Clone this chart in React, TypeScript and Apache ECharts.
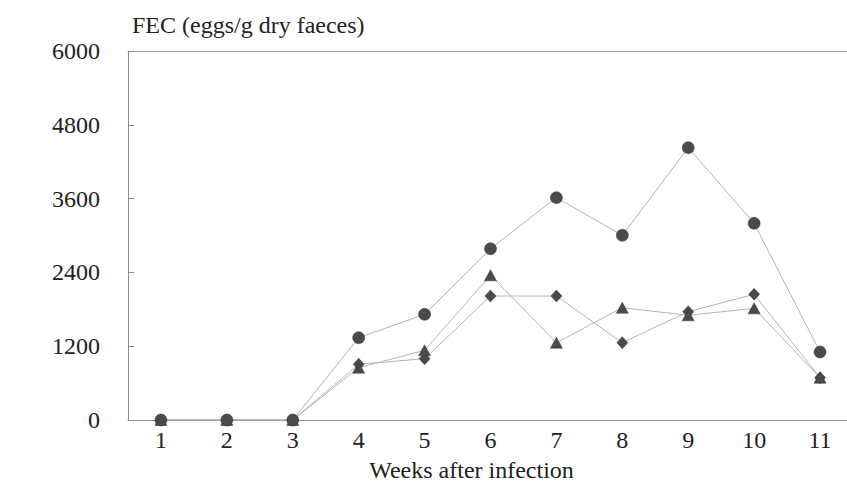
import React, { useEffect, useRef } from "react";
import * as echarts from "echarts";

const weeks = ["1", "2", "3", "4", "5", "6", "7", "8", "9", "10", "11"];
const circleSeries = [0, 0, 0, 1338, 1718, 2785, 3615, 3003, 4428, 3198, 1106];
const triangleSeries = [0, 0, 0, 850, 1133, 2353, 1257, 1826, 1702, 1816, 688];
const diamondSeries = [0, 0, 0, 905, 997, 2016, 2016, 1257, 1761, 2044, 688];
const yTicks = { min: 0, max: 6000, interval: 1200 };

const FONT = "Liberation Serif";
const AXIS = "#8c8c8c";
const LINE = "#b4b4b4";
const MARK = "#4a4a4a";

export default function App() {
  const ref = useRef<HTMLDivElement>(null);
  useEffect(() => {
    document.body.style.margin = "0";
    const chart = echarts.init(ref.current!, undefined, { renderer: "svg" });
    const mkSeries = (name: string, data: number[], symbol: string, size: any) => ({
      name,
      type: "line",
      data,
      symbol,
      symbolSize: size,
      showAllSymbol: true,
      lineStyle: { color: LINE, width: 1 },
      itemStyle: { color: MARK, borderColor: "#333", borderWidth: 0.5 },
      z: 3,
    });
    chart.setOption({
      animation: false,
      backgroundColor: "#fff",
      textStyle: { fontFamily: FONT },
      title: {
        text: "FEC (eggs/g dry faeces)",
        left: 127,
        top: 8,
        textStyle: { fontFamily: FONT, fontSize: 24, fontWeight: "normal", color: "#222" },
      },
      grid: { left: 128, top: 51, width: 725, height: 369, outerBoundsMode: "none", containLabel: false },
      xAxis: [
        {
          type: "category",
          data: weeks,
          boundaryGap: true,
          name: "Weeks after infection",
          nameLocation: "middle",
          nameGap: 38,
          nameTextStyle: { fontFamily: FONT, fontSize: 24, color: "#222", padding: [0, 38, 0, 0] },
          axisLine: { lineStyle: { color: AXIS, width: 1 } },
          axisTick: { inside: true, alignWithLabel: true, length: 5, lineStyle: { color: AXIS } },
          axisLabel: { fontFamily: FONT, fontSize: 24, color: "#222", margin: 8 },
          splitLine: { show: false },
        },
        {
          type: "category",
          data: weeks,
          position: "top",
          axisLine: { lineStyle: { color: "#a0a0a0", width: 1 } },
          axisTick: { show: false },
          axisLabel: { show: false },
          splitLine: { show: false },
        },
      ],
      yAxis: {
        type: "value",
        min: yTicks.min,
        max: yTicks.max,
        interval: yTicks.interval,
        axisLine: { show: true, lineStyle: { color: AXIS, width: 1 } },
        axisTick: { show: true, inside: true, length: 6, lineStyle: { color: AXIS } },
        axisLabel: {
          fontFamily: FONT,
          fontSize: 24,
          color: "#222",
          margin: 28,
          formatter: (v: number) => String(v),
        },
        splitLine: { show: false },
      },
      series: [
        mkSeries("diamond", diamondSeries, "diamond", [11, 12]),
        mkSeries("triangle", triangleSeries, "triangle", [12, 11]),
        mkSeries("circle", circleSeries, "circle", 12),
      ],
    });
    return () => chart.dispose();
  }, []);
  return <div ref={ref} style={{ width: 847, height: 494 }} />;
}
